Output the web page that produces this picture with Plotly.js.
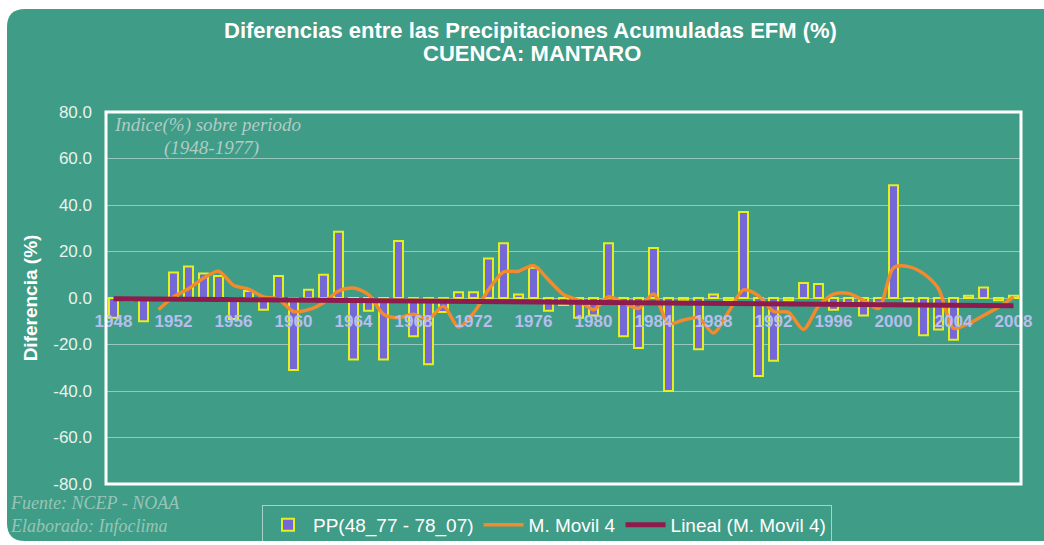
<!DOCTYPE html>
<html>
<head>
<meta charset="utf-8">
<script src="https://cdn.plot.ly/plotly-3.0.1.min.js"></script>
<style>html,body{margin:0;padding:0;background:#fff;}#chart{width:1044px;height:545px;}</style>
</head>
<body>
<div id="chart"></div>
<script>
// ---- data ----
var years = [1948,1949,1950,1951,1952,1953,1954,1955,1956,1957,1958,1959,1960,1961,1962,1963,1964,1965,1966,1967,1968,1969,1970,1971,1972,1973,1974,1975,1976,1977,1978,1979,1980,1981,1982,1983,1984,1985,1986,1987,1988,1989,1990,1991,1992,1993,1994,1995,1996,1997,1998,1999,2000,2001,2002,2003,2004,2005,2006,2007,2008];
var ppDiff = [-8.5,-1,-10,-0.5,11,13.5,10.5,9.5,-9,3,-5,9.5,-31,3.5,10,28.5,-26.5,-5.5,-26.5,24.5,-16.5,-28.5,-6,2.5,2.5,17,23.5,1.5,13,-5.5,-3,-8.5,-7.5,23.5,-16.5,-21.5,21.5,-40,-1,-22,1.5,-1,37,-33.5,-27,-1,6.5,6,-5,-2,-7.5,-2,48.5,-1.5,-16,-13.5,-18,1,4.5,-1,1];
var maYears = [1951,1952,1953,1954,1955,1956,1957,1958,1959,1960,1961,1962,1963,1964,1965,1966,1967,1968,1969,1970,1971,1972,1973,1974,1975,1976,1977,1978,1979,1980,1981,1982,1983,1984,1985,1986,1987,1988,1989,1990,1991,1992,1993,1994,1995,1996,1997,1998,1999,2000,2001,2002,2003,2004,2005,2006,2007,2008];
var movil4 = [-5,0.5,4,8.5,11.5,5.5,3.8,0.5,-0.5,-5.8,-5,-2,3,4.3,1.5,-7,-8.5,-7,-9,-3.5,-12.5,-6.5,3.5,11.2,11.5,14,7.8,1.5,-1,-5,0.5,-2,-4.5,1.7,-11,-9.5,-8.5,-15,-6,3.5,1,-5.8,-6.2,-13.5,-3.5,1.7,2,-1,-4.5,13,13.5,10.5,4,-13,-11,-7.5,-4,0.5];
var linealYears = [1948, 2008];
var lineal = [-0.3, -3.3];
var yTicks = [-80,-60,-40,-20,0,20,40,60,80];
var yTickText = ['-80.0','-60.0','-40.0','-20.0','0.0','20.0','40.0','60.0','80.0'];
var xTicks = [1948,1952,1956,1960,1964,1968,1972,1976,1980,1984,1988,1992,1996,2000,2004,2008];

// ---- layout helpers (pixel -> paper) ----
var L = 106, R = 1021, T = 112, B = 484;
function px(x){ return (x - L) / (R - L); }
function py(y){ return (B - y) / (B - T); }
var rr = 18, X0 = 7, X1 = 1048, Y0 = 9, Y1 = 541;
var bgPath = 'M ' + px(X0+rr) + ' ' + py(Y0) +
  ' L ' + px(X1) + ' ' + py(Y0) +
  ' L ' + px(X1) + ' ' + py(Y1) +
  ' L ' + px(X0+rr) + ' ' + py(Y1) +
  ' Q ' + px(X0) + ' ' + py(Y1) + ' ' + px(X0) + ' ' + py(Y1-rr) +
  ' L ' + px(X0) + ' ' + py(Y0+rr) +
  ' Q ' + px(X0) + ' ' + py(Y0) + ' ' + px(X0+rr) + ' ' + py(Y0) + ' Z';

var font = 'Liberation Sans, Arial, sans-serif';
var serif = 'Liberation Serif, Times New Roman, serif';

var traces = [
  {type:'bar', x: years, y: ppDiff, name:'PP(48_77 - 78_07)', width:0.6,
   marker:{color:'#7468d6', line:{color:'#e4f01c', width:2}}},
  {type:'scatter', mode:'lines', x: maYears, y: movil4, name:'M. Movil 4',
   line:{color:'#f28a2e', width:3.5, shape:'spline', smoothing:0.8}},
  {type:'scatter', mode:'lines', x: linealYears, y: lineal, name:'Lineal (M. Movil 4)',
   line:{color:'#8e1b4e', width:5}}
];

var layout = {
  width:1044, height:545,
  margin:{l:L, r:1044-R, t:T, b:545-B, pad:0, autoexpand:false},
  paper_bgcolor:'#ffffff', plot_bgcolor:'rgba(0,0,0,0)',
  showlegend:true,
  xaxis:{type:'linear', range:[1947.5, 2008.5], tickmode:'array', tickvals:xTicks,
    anchor:'free', position:0.5, showgrid:false, zeroline:false, showline:false, ticks:'',
    ticklabelstandoff:11,
    tickfont:{family:font, size:17, color:'#b6bef0', weight:'bold'}, fixedrange:true},
  yaxis:{range:[-80,80], tickmode:'array', tickvals:yTicks, ticktext:yTickText,
    showgrid:true, gridcolor:'rgba(255,255,255,0.45)', gridwidth:1,
    zeroline:false, showline:false, ticks:'', ticklabelstandoff:13,
    tickfont:{family:font, size:17, color:'#eaf2ee'},
    title:{text:'Diferencia (%)', standoff:10, font:{family:font, size:19, color:'#ffffff', weight:'bold'}},
    fixedrange:true},
  legend:{orientation:'h', xref:'container', yref:'container', x:262/1044, xanchor:'left', y:1-505/545, yanchor:'top',
    bgcolor:'rgba(0,0,0,0)', bordercolor:'rgba(255,255,255,0.55)', borderwidth:1,
    font:{family:font, size:19, color:'#ffffff'},
    itemwidth:40, traceorder:'normal'},
  shapes:[
    {type:'path', xref:'paper', yref:'paper', path:bgPath, fillcolor:'#3f9c86', line:{width:0}, layer:'below'},
    {type:'rect', xref:'paper', yref:'paper', x0:0, x1:1, y0:0, y1:1, line:{color:'#ffffff', width:3}, layer:'above'}
  ],
  annotations:[
    {xref:'paper', yref:'paper', x:px(530), y:py(31), xanchor:'center', yanchor:'middle', showarrow:false,
     text:'Diferencias entre las Precipitaciones Acumuladas EFM (%)', font:{family:font, size:22, color:'#ffffff', weight:'bold'}},
    {xref:'paper', yref:'paper', x:px(532), y:py(54), xanchor:'center', yanchor:'middle', showarrow:false,
     text:'CUENCA: MANTARO', font:{family:font, size:22, color:'#ffffff', weight:'bold'}},
    {xref:'paper', yref:'paper', x:px(112), y:py(125), xanchor:'left', yanchor:'middle', showarrow:false,
     text:'Indice(%) sobre periodo', font:{family:serif, size:19, color:'rgba(215,220,220,0.75)', style:'italic'}},
    {xref:'paper', yref:'paper', x:px(211), y:py(148), xanchor:'center', yanchor:'middle', showarrow:false,
     text:'(1948-1977)', font:{family:serif, size:19, color:'rgba(215,220,220,0.75)', style:'italic'}},
    {xref:'paper', yref:'paper', x:px(8), y:py(503), xanchor:'left', yanchor:'middle', showarrow:false,
     text:'Fuente: NCEP - NOAA', font:{family:serif, size:18, color:'rgba(215,225,220,0.6)', style:'italic'}},
    {xref:'paper', yref:'paper', x:px(8), y:py(526), xanchor:'left', yanchor:'middle', showarrow:false,
     text:'Elaborado: Infoclima', font:{family:serif, size:18, color:'rgba(215,225,220,0.6)', style:'italic'}}
  ]
};

Plotly.newPlot('chart', traces, layout, {displayModeBar:false, staticPlot:true});
</script>
</body>
</html>
